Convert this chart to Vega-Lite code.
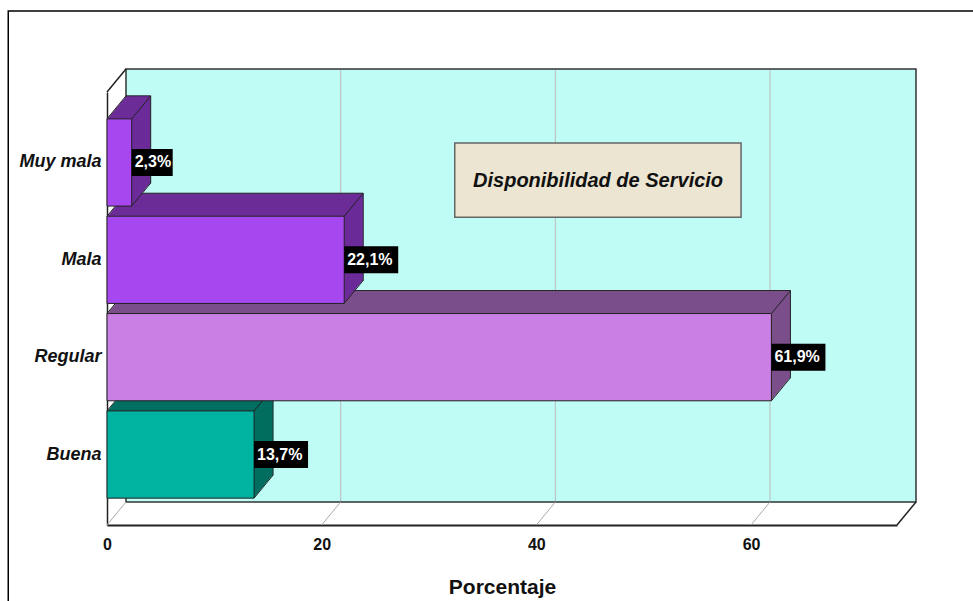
{
  "$schema": "https://vega.github.io/schema/vega-lite/v6.json",
  "width": 790,
  "height": 433,
  "autosize": {"type": "none"},
  "padding": {"left": 107, "top": 92, "right": 76, "bottom": 76},
  "background": "white",
  "config": {"view": {"stroke": null}, "font": "Liberation Sans"},
  "datasets": {
    "servicio": [
      {"cat": "Buena", "pct": 13.7},
      {"cat": "Regular", "pct": 61.9},
      {"cat": "Mala", "pct": 22.1},
      {"cat": "Muy mala", "pct": 2.3}
    ],
    "grid": [{"v": 0}, {"v": 20}, {"v": 40}, {"v": 60}],
    "one": [{}]
  },
  "resolve": {"scale": {"y": "independent"}},
  "layer": [
    {
      "layer": [
        {
          "data": {"name": "one"},
          "mark": {"type": "rect", "fill": "#BEFCF5", "stroke": "#333333", "strokeWidth": 1.5, "xOffset": 19, "x2Offset": 19, "yOffset": -23, "y2Offset": -23},
          "encoding": {
            "x": {"datum": 0, "type": "quantitative"},
            "x2": {"datum": 73.6},
            "y": {"datum": 0, "type": "quantitative", "scale": {"domain": [0, 1], "reverse": true, "nice": false, "zero": false}, "axis": null},
            "y2": {"datum": 1}
          }
        },
        {
          "data": {"name": "grid"},
          "transform": [{"filter": "datum.v > 0"}],
          "mark": {"type": "rule", "color": "#BBBBBB", "strokeWidth": 1, "xOffset": 19, "x2Offset": 19, "yOffset": -22, "y2Offset": -24},
          "encoding": {
            "x": {"field": "v", "type": "quantitative"},
            "y": {"datum": 0, "type": "quantitative", "axis": null},
            "y2": {"datum": 1}
          }
        },
        {
          "data": {"name": "grid"},
          "mark": {"type": "point", "shape": "M0,0L19,-23", "size": 4, "filled": false, "stroke": "#AAAAAA", "strokeWidth": 1, "opacity": 1},
          "encoding": {
            "x": {"field": "v", "type": "quantitative"},
            "y": {"datum": 1, "type": "quantitative", "axis": null}
          }
        },
        {
          "data": {"name": "one"},
          "mark": {"type": "point", "shape": "M0,0L19,-23", "size": 4, "filled": false, "stroke": "#222222", "strokeWidth": 1.5, "opacity": 1},
          "encoding": {
            "x": {"datum": 73.6, "type": "quantitative"},
            "y": {"datum": 1, "type": "quantitative", "axis": null}
          }
        },
        {
          "data": {"name": "one"},
          "mark": {"type": "point", "shape": "M0,0L19,-23", "size": 4, "filled": false, "stroke": "#222222", "strokeWidth": 1.5, "opacity": 1},
          "encoding": {
            "x": {"datum": 0, "type": "quantitative"},
            "y": {"datum": 0, "type": "quantitative", "axis": null}
          }
        }
      ]
    },
    {
      "data": {"name": "servicio"},
      "encoding": {
        "x": {
          "field": "pct",
          "type": "quantitative",
          "scale": {"domain": [0, 73.6], "nice": false},
          "axis": {
            "title": "Porcentaje",
            "values": [0, 20, 40, 60],
            "grid": false,
            "ticks": false,
            "labelFlush": false,
            "domainColor": "#222222",
            "domainWidth": 2,
            "labelFont": "Liberation Sans",
            "labelFontSize": 16,
            "labelFontWeight": "bold",
            "labelColor": "#111111",
            "labelPadding": 11,
            "titleFont": "Liberation Sans",
            "titleFontSize": 21,
            "titleFontWeight": "bold",
            "titleColor": "#111111",
            "titlePadding": 24
          }
        },
        "y": {
          "field": "cat",
          "type": "nominal",
          "scale": {"domain": ["Muy mala", "Mala", "Regular", "Buena"], "paddingInner": 0.104, "paddingOuter": 0.276},
          "axis": {
            "title": null,
            "ticks": false,
            "domainColor": "#222222",
            "domainWidth": 1.5,
            "labelFont": "Liberation Sans",
            "labelFontSize": 18,
            "labelFontWeight": "bold",
            "labelFontStyle": "italic",
            "labelColor": "#111111",
            "labelPadding": 6
          }
        }
      },
      "layer": [
        {"mark": {"type": "bar", "stroke": "#222222", "strokeWidth": 1, "xOffset": 19, "x2Offset": 19, "yOffset": -23, "y2Offset": -23},
         "encoding": {"fill": {"field": "cat", "type": "nominal", "scale": {"domain": ["Muy mala", "Mala", "Regular", "Buena"], "range": ["#6B2C99", "#6B2C99", "#7B4F8A", "#006E60"]}, "legend": null}}},
        {"mark": {"type": "bar", "xOffset": 18.17, "x2Offset": 18.17, "yOffset": -22, "y2Offset": -22}, "encoding": {"fill": {"field": "cat", "type": "nominal", "legend": null}}},
        {"mark": {"type": "bar", "xOffset": 17.35, "x2Offset": 17.35, "yOffset": -21, "y2Offset": -21}, "encoding": {"fill": {"field": "cat", "type": "nominal", "legend": null}}},
        {"mark": {"type": "bar", "xOffset": 16.52, "x2Offset": 16.52, "yOffset": -20, "y2Offset": -20}, "encoding": {"fill": {"field": "cat", "type": "nominal", "legend": null}}},
        {"mark": {"type": "bar", "xOffset": 15.7, "x2Offset": 15.7, "yOffset": -19, "y2Offset": -19}, "encoding": {"fill": {"field": "cat", "type": "nominal", "legend": null}}},
        {"mark": {"type": "bar", "xOffset": 14.87, "x2Offset": 14.87, "yOffset": -18, "y2Offset": -18}, "encoding": {"fill": {"field": "cat", "type": "nominal", "legend": null}}},
        {"mark": {"type": "bar", "xOffset": 14.04, "x2Offset": 14.04, "yOffset": -17, "y2Offset": -17}, "encoding": {"fill": {"field": "cat", "type": "nominal", "legend": null}}},
        {"mark": {"type": "bar", "xOffset": 13.22, "x2Offset": 13.22, "yOffset": -16, "y2Offset": -16}, "encoding": {"fill": {"field": "cat", "type": "nominal", "legend": null}}},
        {"mark": {"type": "bar", "xOffset": 12.39, "x2Offset": 12.39, "yOffset": -15, "y2Offset": -15}, "encoding": {"fill": {"field": "cat", "type": "nominal", "legend": null}}},
        {"mark": {"type": "bar", "xOffset": 11.57, "x2Offset": 11.57, "yOffset": -14, "y2Offset": -14}, "encoding": {"fill": {"field": "cat", "type": "nominal", "legend": null}}},
        {"mark": {"type": "bar", "xOffset": 10.74, "x2Offset": 10.74, "yOffset": -13, "y2Offset": -13}, "encoding": {"fill": {"field": "cat", "type": "nominal", "legend": null}}},
        {"mark": {"type": "bar", "xOffset": 9.91, "x2Offset": 9.91, "yOffset": -12, "y2Offset": -12}, "encoding": {"fill": {"field": "cat", "type": "nominal", "legend": null}}},
        {"mark": {"type": "bar", "xOffset": 9.09, "x2Offset": 9.09, "yOffset": -11, "y2Offset": -11}, "encoding": {"fill": {"field": "cat", "type": "nominal", "legend": null}}},
        {"mark": {"type": "bar", "xOffset": 8.26, "x2Offset": 8.26, "yOffset": -10, "y2Offset": -10}, "encoding": {"fill": {"field": "cat", "type": "nominal", "legend": null}}},
        {"mark": {"type": "bar", "xOffset": 7.43, "x2Offset": 7.43, "yOffset": -9, "y2Offset": -9}, "encoding": {"fill": {"field": "cat", "type": "nominal", "legend": null}}},
        {"mark": {"type": "bar", "xOffset": 6.61, "x2Offset": 6.61, "yOffset": -8, "y2Offset": -8}, "encoding": {"fill": {"field": "cat", "type": "nominal", "legend": null}}},
        {"mark": {"type": "bar", "xOffset": 5.78, "x2Offset": 5.78, "yOffset": -7, "y2Offset": -7}, "encoding": {"fill": {"field": "cat", "type": "nominal", "legend": null}}},
        {"mark": {"type": "bar", "xOffset": 4.96, "x2Offset": 4.96, "yOffset": -6, "y2Offset": -6}, "encoding": {"fill": {"field": "cat", "type": "nominal", "legend": null}}},
        {"mark": {"type": "bar", "xOffset": 4.13, "x2Offset": 4.13, "yOffset": -5, "y2Offset": -5}, "encoding": {"fill": {"field": "cat", "type": "nominal", "legend": null}}},
        {"mark": {"type": "bar", "xOffset": 3.3, "x2Offset": 3.3, "yOffset": -4, "y2Offset": -4}, "encoding": {"fill": {"field": "cat", "type": "nominal", "legend": null}}},
        {"mark": {"type": "bar", "xOffset": 2.48, "x2Offset": 2.48, "yOffset": -3, "y2Offset": -3}, "encoding": {"fill": {"field": "cat", "type": "nominal", "legend": null}}},
        {"mark": {"type": "bar", "xOffset": 1.65, "x2Offset": 1.65, "yOffset": -2, "y2Offset": -2}, "encoding": {"fill": {"field": "cat", "type": "nominal", "legend": null}}},
        {"mark": {"type": "bar", "xOffset": 0.83, "x2Offset": 0.83, "yOffset": -1, "y2Offset": -1}, "encoding": {"fill": {"field": "cat", "type": "nominal", "legend": null}}},
        {
          "mark": {"type": "point", "shape": "M0,0L19,-23", "size": 4, "filled": false, "stroke": "#222222", "strokeWidth": 1, "opacity": 1},
          "encoding": {"x": {"datum": 0, "type": "quantitative"}, "y": {"field": "cat", "type": "nominal", "bandPosition": 0}}
        },
        {
          "mark": {"type": "point", "shape": "M0,0L19,-23", "size": 4, "filled": false, "stroke": "#222222", "strokeWidth": 1, "opacity": 1},
          "encoding": {"y": {"field": "cat", "type": "nominal", "bandPosition": 0}}
        },
        {
          "mark": {"type": "point", "shape": "M0,0L19,-23", "size": 4, "filled": false, "stroke": "#222222", "strokeWidth": 1, "opacity": 1},
          "encoding": {"y": {"field": "cat", "type": "nominal", "bandPosition": 1}}
        },
        {
          "mark": {"type": "bar", "stroke": "#222222", "strokeWidth": 1},
          "encoding": {"color": {"field": "cat", "type": "nominal", "scale": {"domain": ["Muy mala", "Mala", "Regular", "Buena"], "range": ["#A647F0", "#A647F0", "#C97FE3", "#00B3A0"]}, "legend": null}}
        },
        {
          "transform": [{"filter": "datum.pct < 10"}],
          "mark": {"type": "bar", "fill": "#000000", "height": 27, "x2Offset": 41},
          "encoding": {"x2": {"field": "pct"}}
        },
        {
          "transform": [{"filter": "datum.pct >= 10"}],
          "mark": {"type": "bar", "fill": "#000000", "height": 27, "x2Offset": 54},
          "encoding": {"x2": {"field": "pct"}}
        },
        {
          "transform": [{"calculate": "replace(format(datum.pct, '.1f'), '.', ',') + '%'", "as": "etiqueta"}],
          "mark": {"type": "text", "align": "left", "baseline": "middle", "dx": 3, "font": "Liberation Sans", "fontSize": 16, "fontWeight": "bold", "fill": "#FFFFFF"},
          "encoding": {"text": {"field": "etiqueta"}}
        }
      ]
    },
    {
      "data": {"name": "one"},
      "layer": [
        {
          "mark": {"type": "rect", "fill": "transparent", "stroke": "#000000", "strokeWidth": 1.5},
          "encoding": {
            "x": {"datum": -9.2, "type": "quantitative"},
            "x2": {"datum": 100},
            "y": {"datum": -0.187, "type": "quantitative", "scale": {"domain": [0, 1], "reverse": true, "nice": false, "zero": false}, "axis": null},
            "y2": {"datum": 1.3}
          }
        },
        {
          "mark": {"type": "rect", "fill": "#ECE5D1", "stroke": "#666666", "strokeWidth": 1.5},
          "encoding": {
            "x": {"datum": 32.4, "type": "quantitative"},
            "x2": {"datum": 59.07},
            "y": {"datum": 0.118, "type": "quantitative", "axis": null},
            "y2": {"datum": 0.289}
          }
        },
        {
          "mark": {"type": "text", "align": "center", "baseline": "middle", "font": "Liberation Sans", "fontSize": 20, "fontWeight": "bold", "fontStyle": "italic", "fill": "#111111", "text": "Disponibilidad de Servicio"},
          "encoding": {
            "x": {"datum": 45.75, "type": "quantitative"},
            "y": {"datum": 0.206, "type": "quantitative", "axis": null}
          }
        }
      ]
    }
  ]
}
